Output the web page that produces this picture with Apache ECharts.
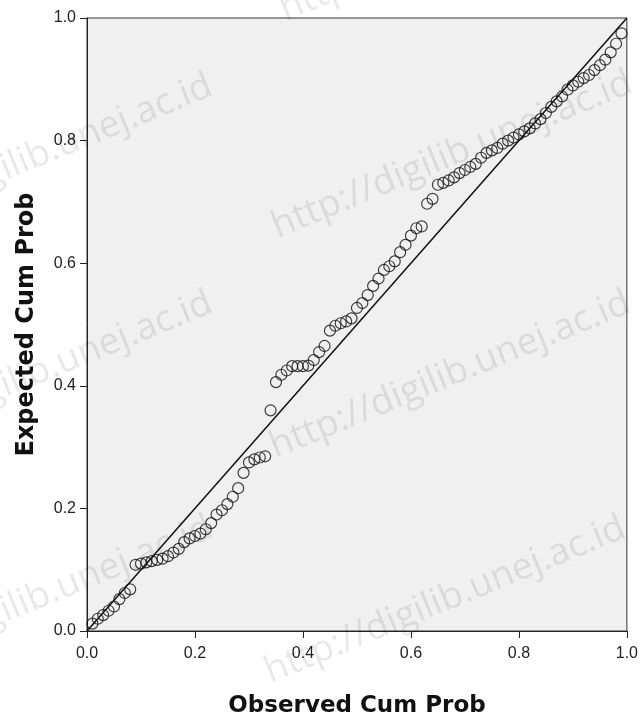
<!DOCTYPE html>
<html>
<head>
<meta charset="utf-8">
<script src="https://cdn.jsdelivr.net/npm/echarts@6/dist/echarts.min.js"></script>
<style>
  html, body { margin: 0; padding: 0; background: #fff; }
  #chart { width: 641px; height: 724px; }
</style>
</head>
<body>
<div id="chart"></div>
<script>
// observed cumulative probability (x) and expected cumulative probability (y)
var observed = [
  0.01, 0.02, 0.03, 0.04, 0.05, 0.06, 0.07, 0.08, 0.09, 0.10,
  0.11, 0.12, 0.13, 0.14, 0.15, 0.16, 0.17, 0.18, 0.19, 0.20,
  0.21, 0.22, 0.23, 0.24, 0.25, 0.26, 0.27, 0.28, 0.29, 0.30,
  0.31, 0.32, 0.33, 0.34, 0.35, 0.36, 0.37, 0.38, 0.39, 0.40,
  0.41, 0.42, 0.43, 0.44, 0.45, 0.46, 0.47, 0.48, 0.49, 0.50,
  0.51, 0.52, 0.53, 0.54, 0.55, 0.56, 0.57, 0.58, 0.59, 0.60,
  0.61, 0.62, 0.63, 0.64, 0.65, 0.66, 0.67, 0.68, 0.69, 0.70,
  0.71, 0.72, 0.73, 0.74, 0.75, 0.76, 0.77, 0.78, 0.79, 0.80,
  0.81, 0.82, 0.83, 0.84, 0.85, 0.86, 0.87, 0.88, 0.89, 0.90,
  0.91, 0.92, 0.93, 0.94, 0.95, 0.96, 0.97, 0.98, 0.99
];
var expected = [
  0.012, 0.020, 0.026, 0.033, 0.040, 0.052, 0.062, 0.068, 0.108, 0.110,
  0.112, 0.114, 0.116, 0.118, 0.122, 0.128, 0.134, 0.145, 0.151, 0.155,
  0.159, 0.166, 0.176, 0.190, 0.197, 0.207, 0.219, 0.233, 0.258, 0.275,
  0.280, 0.283, 0.285, 0.360, 0.406, 0.418, 0.425, 0.432, 0.432, 0.432,
  0.433, 0.442, 0.455, 0.465, 0.490, 0.498, 0.502, 0.505, 0.510, 0.527,
  0.535, 0.548, 0.563, 0.575, 0.589, 0.595, 0.603, 0.618, 0.630, 0.645,
  0.657, 0.660, 0.697, 0.705, 0.728, 0.731, 0.735, 0.740, 0.747, 0.752,
  0.757, 0.762, 0.772, 0.780, 0.784, 0.788, 0.795, 0.800, 0.805, 0.810,
  0.815, 0.820, 0.828, 0.835, 0.845, 0.855, 0.864, 0.872, 0.883, 0.890,
  0.896, 0.902, 0.907, 0.915, 0.923, 0.932, 0.944, 0.958, 0.975
];
var refLine = [[0, 0], [1, 1]];
var tickLabels = ['0.0', '0.2', '0.4', '0.6', '0.8', '1.0'];

var points = observed.map(function (x, i) { return [x, expected[i]]; });

var FONT = '"Liberation Sans", Arial, sans-serif';
var TITLE_FONT = '"DejaVu Sans", Verdana, sans-serif';
var WM = 'http://digilib.unej.ac.id';

function watermark(cx, cy) {
    return {
        type: 'text',
        x: cx,
        y: cy,
        rotation: 0.39,
        z: 100,
        silent: true,
        style: {
            text: WM,
            fontFamily: '"Open Sans", sans-serif',
            fontSize: 37,
            fill: 'rgba(0,0,0,0.09)',
            align: 'center',
            verticalAlign: 'middle'
        }
    };
}

var myChart = echarts.init(document.getElementById('chart'));
myChart.setOption({
    animation: false,
    backgroundColor: '#ffffff',
    grid: {
        left: 87,
        right: 14,
        top: 18,
        bottom: 93,
        show: true,
        backgroundColor: '#f0f0f0',
        borderColor: '#333',
        borderWidth: 1
    },
    xAxis: {
        type: 'value',
        min: 0,
        max: 1,
        interval: 0.2,
        name: 'Observed Cum Prob',
        nameLocation: 'middle',
        nameGap: 64,
        nameTextStyle: { fontFamily: TITLE_FONT, fontSize: 23, fontWeight: 'bold', color: '#111' },
        axisLine: { lineStyle: { color: '#222', width: 1 } },
        axisTick: { show: true, inside: false, length: 7, lineStyle: { color: '#222' } },
        axisLabel: {
            margin: 15,
            fontFamily: FONT, fontSize: 16, color: '#222',
            formatter: function (v) { return tickLabels[Math.round(v / 0.2)]; }
        },
        splitLine: { show: false }
    },
    yAxis: {
        type: 'value',
        min: 0,
        max: 1,
        interval: 0.2,
        name: 'Expected Cum Prob',
        nameLocation: 'middle',
        nameGap: 48,
        nameTextStyle: { fontFamily: TITLE_FONT, fontSize: 24, fontWeight: 'bold', color: '#111' },
        axisLine: { show: true, lineStyle: { color: '#222', width: 1 } },
        axisTick: { show: true, inside: false, length: 7, lineStyle: { color: '#222' } },
        axisLabel: {
            margin: 11,
            fontFamily: FONT, fontSize: 16, color: '#222',
            formatter: function (v) { return tickLabels[Math.round(v / 0.2)]; }
        },
        splitLine: { show: false }
    },
    series: [
        {
            type: 'line',
            data: refLine,
            symbol: 'none',
            lineStyle: { color: '#111', width: 1.5 },
            z: 2
        },
        {
            type: 'scatter',
            data: points,
            symbol: 'circle',
            symbolSize: 11,
            itemStyle: { color: 'rgba(0,0,0,0)', borderColor: '#111', borderWidth: 1.2 },
            z: 3
        }
    ],
    graphic: [
        watermark(460, -62),
        watermark(32, 158),
        watermark(452, 155),
        watermark(32, 375),
        watermark(450, 375),
        watermark(32, 600),
        watermark(445, 600)
    ]
});
</script>
</body>
</html>
